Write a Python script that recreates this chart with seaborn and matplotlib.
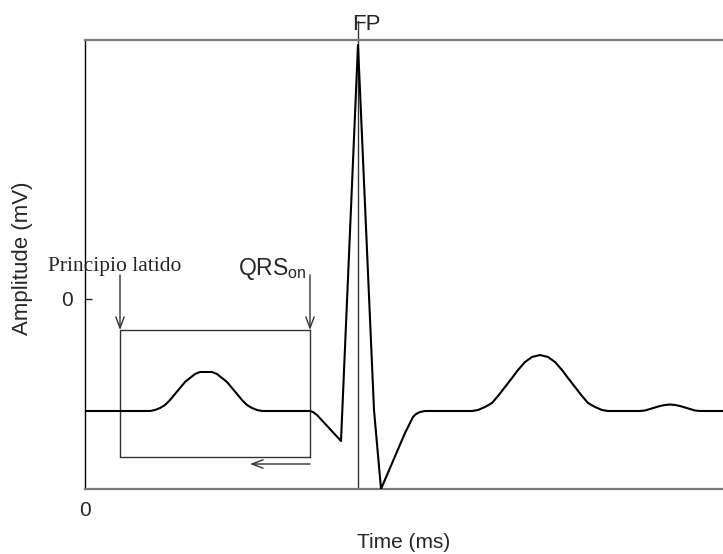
import matplotlib
matplotlib.use("Agg")
import matplotlib.pyplot as plt
import seaborn as sns
import pandas as pd

# ECG beat: time (ms) and amplitude (mV)
time_ms = [0, 65, 70, 75, 80, 85, 90, 95, 100, 105, 110, 115, 121, 127, 132, 137, 142,
           147, 152, 157, 162, 167, 172, 177,
           225, 228, 232, 256, 273, 289, 296, 320, 325, 328, 331, 335, 340,
           387, 393, 400, 407, 413, 420, 427, 433, 440, 447, 455, 463, 470, 477, 483,
           490, 497, 503, 510, 517, 523,
           555, 560, 565, 570, 575, 580, 585, 590, 595, 600, 605, 610, 615, 638]
amplitude_mv = [-1.12, -1.12, -1.11, -1.09, -1.06, -1.01, -0.95, -0.89, -0.83, -0.79, -0.75,
                -0.73, -0.73, -0.73, -0.75, -0.79, -0.83, -0.89, -0.95, -1.01, -1.06, -1.09,
                -1.11, -1.12,
                -1.12, -1.13, -1.16, -1.42, 2.54, -1.11, -1.90, -1.34, -1.24, -1.18, -1.15,
                -1.13, -1.12,
                -1.12, -1.11, -1.08, -1.04, -0.97, -0.88, -0.79, -0.71, -0.63, -0.58, -0.56,
                -0.58, -0.63, -0.71, -0.79, -0.88, -0.97, -1.04, -1.08, -1.11, -1.12,
                -1.12, -1.115, -1.10, -1.085, -1.07, -1.06, -1.055, -1.06, -1.07, -1.085,
                -1.10, -1.115, -1.12, -1.12]

# landmarks
beat_start_ms = 35
qrs_on_ms = 225
fp_ms = 273
window_top_mv = 0.24
window_arrow_mv = -0.31
window_bottom_mv = -1.58
back_arrow_mv = -1.65
back_arrow_end_ms = 165

x_ticks = [0]
y_ticks = [0]

sns.set_style("ticks")
plt.rcParams["font.family"] = ["Liberation Sans", "DejaVu Sans"]
plt.rcParams["mathtext.fontset"] = "custom"
plt.rcParams["mathtext.rm"] = "Liberation Sans"

fig = plt.figure(figsize=(7.23, 5.54), dpi=100)
ax = fig.add_axes([85 / 723, 65 / 554, 638 / 723, 449 / 554])

df = pd.DataFrame({"Time (ms)": time_ms, "Amplitude (mV)": amplitude_mv})
sns.lineplot(data=df, x="Time (ms)", y="Amplitude (mV)", ax=ax, color="black",
             lw=1.5, sort=False, estimator=None, zorder=3)

ax.set_xlim(0, 638)
ax.set_ylim(-1.90, 2.59)

# spines
for side in ["top", "bottom"]:
    ax.spines[side].set_color("#7a7a7a")
    ax.spines[side].set_linewidth(1.6)
ax.spines["left"].set_color("black")
ax.spines["left"].set_linewidth(1.0)
ax.spines["right"].set_visible(False)

ax.set_xticks(x_ticks)
ax.set_yticks(y_ticks)
ax.set_xticklabels(["0"])
ax.set_yticklabels(["0"])
ax.tick_params(axis="x", length=0, pad=9, labelsize=15)
ax.tick_params(axis="y", direction="in", length=5, width=1, pad=9, labelsize=15)
ax.set_xlabel("Time (ms)", fontsize=15, labelpad=9)
ax.set_ylabel("Amplitude (mV)", fontsize=16)
ax.yaxis.set_label_coords(-0.082, 0.515)

box_kw = dict(color="#333333", lw=1.0, zorder=2)

# FP marker line
ax.plot([fp_ms, fp_ms], [-1.90, 2.78], clip_on=False, **box_kw)
ax.text(fp_ms + 8, 2.69, "FP", ha="center", va="baseline", fontsize=16)

# beat window
ax.plot([beat_start_ms, beat_start_ms], [window_arrow_mv, window_bottom_mv], **box_kw)
ax.plot([qrs_on_ms, qrs_on_ms], [window_arrow_mv, window_bottom_mv], **box_kw)
ax.plot([beat_start_ms, qrs_on_ms], [window_arrow_mv, window_arrow_mv], **box_kw)
ax.plot([beat_start_ms, qrs_on_ms], [window_bottom_mv, window_bottom_mv], **box_kw)

arrow_kw = dict(arrowstyle="->,head_length=0.8,head_width=0.3", color="#333333",
                lw=1.0, shrinkA=0, shrinkB=0)
for xm in (beat_start_ms, qrs_on_ms):
    ax.annotate("", xy=(xm, window_arrow_mv), xytext=(xm, window_top_mv),
                arrowprops=arrow_kw)
ax.annotate("", xy=(back_arrow_end_ms, back_arrow_mv), xytext=(qrs_on_ms, back_arrow_mv),
            arrowprops=arrow_kw)

ax.text(-37, 0.28, "Principio latido", ha="left", va="baseline", fontsize=15.5,
        family=["Liberation Serif", "DejaVu Serif"])
ax.text(153, 0.24, r"QRS$_{\rm on}$", ha="left", va="baseline", fontsize=16.5)

fig.savefig("out.png", dpi=100)
